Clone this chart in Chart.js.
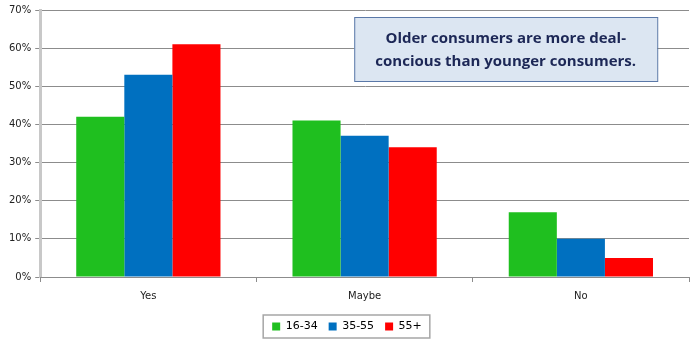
<!DOCTYPE html>
<html lang="en">
<head>
  <meta charset="UTF-8" />
  <title>Deal consciousness by age</title>
  <script src="https://cdn.jsdelivr.net/npm/chart.js"></script>
  <style>
    body { margin: 0; background: #ffffff; }
    #wrap { width: 695px; height: 345px; }
  </style>
</head>
<body>
  <div id="wrap"><canvas id="chart" width="695" height="345"></canvas></div>
  <script>
    const categories = ['Yes', 'Maybe', 'No'];
    const ageGroups = ['16-34', '35-55', '55+'];
    const young = [42, 41, 17];
    const middle = [53, 37, 10];
    const older = [61, 34, 5];
    const yTicks = [0, 10, 20, 30, 40, 50, 60, 70];
    const note = ['Older consumers are more deal-', 'concious than younger consumers.'];

    const colors = ['#1fbf1f', '#0070c0', '#ff0000'];
    const font = "'DejaVu Sans', Verdana, sans-serif";

    // callout box and legend frame
    const extras = {
      id: 'extras',
      afterDraw(chart) {
        const c = chart.ctx;
        const a = chart.chartArea;
        c.save();
        const bx = a.left + 314, by = 17, bw = 303, bh = 64;
        c.fillStyle = '#dce6f2';
        c.fillRect(bx, by, bw, bh);
        c.strokeStyle = '#5a78a8';
        c.lineWidth = 1;
        c.strokeRect(bx + 0.5, by + 0.5, bw, bh);
        c.fillStyle = '#1c2756';
        c.font = "bold 15px 'Open Sans', 'Liberation Sans', sans-serif";
        c.textAlign = 'center';
        c.textBaseline = 'middle';
        c.fillText(note[0], bx + bw / 2, by + 22);
        c.fillText(note[1], bx + bw / 2, by + 45);

        const items = chart.legend.legendHitBoxes;
        if (items && items.length) {
          const first = items[0], last = items[items.length - 1];
          const x0 = first.left - 9, x1 = last.left + last.width + 8;
          const y0 = first.top - 6, y1 = first.top + first.height + 6;
          c.strokeStyle = '#a6a6a6';
          c.lineWidth = 1.5;
          c.strokeRect(x0, y0, x1 - x0, y1 - y0);
        }
        c.restore();
      }
    };

    new Chart(document.getElementById('chart'), {
      type: 'bar',
      data: {
        labels: categories,
        datasets: [young, middle, older].map((d, i) => ({
          label: ageGroups[i],
          data: d,
          backgroundColor: colors[i],
          borderWidth: 0,
          categoryPercentage: 0.667,
          barPercentage: 1.0
        }))
      },
      options: {
        responsive: false,
        animation: false,
        layout: { padding: { left: 5, right: 6, top: 4, bottom: 3 } },
        plugins: {
          legend: {
            position: 'bottom',
            labels: {
              boxWidth: 8, boxHeight: 8, padding: 11,
              color: '#000000',
              font: { family: font, size: 11 }
            }
          },
          tooltip: { enabled: false },
          title: { display: false }
        },
        scales: {
          y: {
            min: 0, max: 70,
            afterBuildTicks: s => { s.ticks = yTicks.map(v => ({ value: v })); },
            ticks: {
              callback: v => v + '%',
              color: '#222222',
              font: { family: font, size: 10 },
              padding: 4
            },
            grid: { color: '#8c8c8c', tickLength: 5 },
            border: { color: '#c8c8c8', width: 3 }
          },
          x: {
            ticks: {
              color: '#222222',
              font: { family: font, size: 10 },
              padding: 8
            },
            grid: { drawOnChartArea: false, color: '#8c8c8c', tickLength: 5 },
            border: { color: '#8c8c8c', width: 1 }
          }
        }
      },
      plugins: [extras]
    });
  </script>
</body>
</html>
